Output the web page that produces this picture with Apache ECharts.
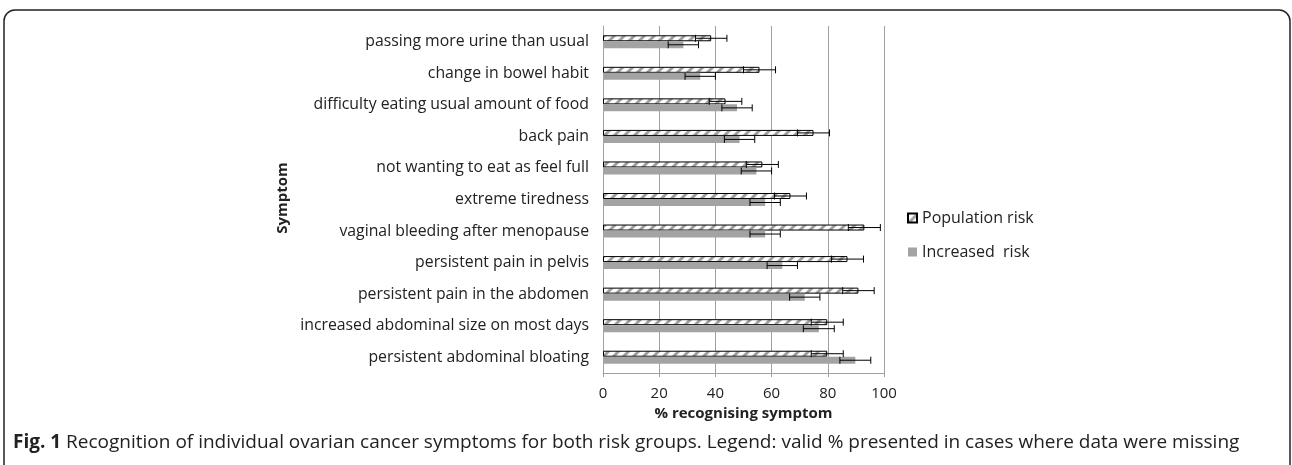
<!DOCTYPE html>
<html>
<head>
<meta charset="utf-8">
<title>ECharts</title>
<script src="https://cdn.jsdelivr.net/npm/echarts@6/dist/echarts.min.js"></script>
<style>
  html, body { margin: 0; padding: 0; background: #fff; }
</style>
</head>
<body>
	<div id="main" style="width: 1292px; height: 465px;"></div>
	<script type="text/javascript">
		// symptoms, top to bottom
		var symptoms = [
			'passing more urine than usual',
			'change in bowel habit',
			'difficulty eating usual amount of food',
			'back pain',
			'not wanting to eat as feel full',
			'extreme tiredness',
			'vaginal bleeding after menopause',
			'persistent pain in pelvis',
			'persistent pain in the abdomen',
			'increased abdominal size on most days',
			'persistent abdominal bloating'
		];
		var populationRisk = [38.5, 55.7, 43.6, 74.9, 56.7, 66.7, 93.0, 87.0, 90.9, 79.8, 79.8];
		var increasedRisk  = [28.6, 34.6, 47.7, 48.6, 54.6, 57.7, 57.7, 63.8, 71.8, 76.8, 89.8];
		// half widths of the error bars
		var populationErr = [5.6, 5.7, 5.8, 5.7, 5.7, 5.7, 5.7, 5.7, 5.6, 5.7, 5.7];
		var increasedErr  = [5.4, 5.4, 5.4, 5.4, 5.4, 5.4, 5.4, 5.4, 5.4, 5.5, 5.5];
		var xTicks = [0, 20, 40, 60, 80, 100];

		var font = 'Open Sans';
		var popW = 6, incW = 7;

		// hatch pattern for the population risk bars
		var cv = document.createElement('canvas');
		cv.width = 10; cv.height = 10;
		var ctx = cv.getContext('2d');
		ctx.fillStyle = '#fff';
		ctx.fillRect(0, 0, 10, 10);
		ctx.strokeStyle = '#a0a0a0';
		ctx.lineWidth = 3;
		ctx.beginPath();
		ctx.moveTo(-5, 15); ctx.lineTo(15, -5);
		ctx.moveTo(-15, 15); ctx.lineTo(5, -5);
		ctx.moveTo(5, 15); ctx.lineTo(25, -5);
		ctx.stroke();

		function errData(vals, errs) {
			var d = [];
			for (var i = 0; i < vals.length; i++) {
				d.push([vals[i] - errs[i], vals[i] + errs[i], i]);
			}
			return d;
		}

		function errRender(offset, cap) {
			return function (params, api) {
				var i = api.value(2);
				var p1 = api.coord([api.value(0), i]);
				var p2 = api.coord([api.value(1), i]);
				var y = p1[1] + offset;
				var st = { stroke: '#000', lineWidth: 1 };
				return {
					type: 'group',
					children: [
						{ type: 'line', shape: { x1: p1[0], y1: y, x2: p2[0], y2: y }, style: st },
						{ type: 'line', shape: { x1: p1[0], y1: y - cap, x2: p1[0], y2: y + cap }, style: st },
						{ type: 'line', shape: { x1: p2[0], y1: y - cap, x2: p2[0], y2: y + cap }, style: st }
					]
				};
			};
		}

		var myChart = echarts.init(document.getElementById('main'));

		var option = {
			backgroundColor: '#fff',
			animation: false,
			textStyle: { fontFamily: font },
			grid: { left: 603, right: 408, top: 26, bottom: 92 },
			legend: {
				orient: 'vertical',
				left: 907,
				top: 209,
				padding: 0,
				itemWidth: 9,
				itemHeight: 9,
				itemGap: 16,
				textStyle: { fontFamily: font, fontSize: 16, lineHeight: 18, color: '#222' },
				data: [
					{ name: 'Population risk', icon: 'rect' },
					{ name: 'Increased  risk', icon: 'rect' }
				]
			},
			xAxis: {
				type: 'value',
				min: 0, max: 100, interval: 20,
				name: '% recognising symptom',
				nameLocation: 'middle',
				nameGap: 32,
				nameTextStyle: { fontFamily: font, fontSize: 15, fontWeight: 'bold', color: '#222' },
				axisLine: { show: true, lineStyle: { color: '#a0a0a0' } },
				axisTick: { show: true, length: 4, lineStyle: { color: '#a0a0a0' } },
				axisLabel: {
					fontSize: 15, color: '#222', margin: 13,
					formatter: function (v) { return xTicks.indexOf(v) >= 0 ? String(v) : ''; }
				},
				splitLine: { show: true, lineStyle: { color: '#a0a0a0' } }
			},
			yAxis: {
				type: 'category',
				inverse: true,
				data: symptoms,
				axisLine: { show: true, lineStyle: { color: '#a0a0a0' } },
				axisTick: { show: false },
				axisLabel: { fontSize: 15.8, color: '#222', margin: 14 }
			},
			series: [
				{
					name: 'Population risk',
					type: 'bar',
					barWidth: popW,
					barGap: 0,
					data: populationRisk,
					itemStyle: { color: { image: cv, repeat: 'repeat' }, borderColor: '#000', borderWidth: 1 }
				},
				{
					name: 'Increased  risk',
					type: 'bar',
					barWidth: incW,
					barGap: 0,
					data: increasedRisk,
					itemStyle: { color: '#a3a3a3' }
				},
				{
					type: 'custom',
					renderItem: errRender(-(popW + incW) / 2 + popW / 2, 3.5),
					data: errData(populationRisk, populationErr),
					encode: { x: [0, 1], y: 2 },
					z: 5
				},
				{
					type: 'custom',
					renderItem: errRender((popW + incW) / 2 - incW / 2, 3.5),
					data: errData(increasedRisk, increasedErr),
					encode: { x: [0, 1], y: 2 },
					z: 5
				}
			],
			graphic: [
				{
					type: 'rect',
					shape: { x: 4, y: 10, width: 1286, height: 520, r: 11 },
					style: { fill: 'none', stroke: '#222', lineWidth: 1.5 },
					silent: true
				},
				{
					type: 'text',
					x: 283, y: 198,
					rotation: Math.PI / 2,
					style: {
						text: 'Symptom', fontFamily: font, fontSize: 15, fontWeight: 'bold',
						fill: '#222', align: 'center', verticalAlign: 'middle'
					}
				},
				{
					type: 'text',
					left: 13, top: 433,
					style: {
						text: '{b|Fig. 1} Recognition of individual ovarian cancer symptoms for both risk groups. Legend: valid % presented in cases where data were missing',
						fontFamily: 'Open Sans', fontSize: 19, fill: '#222',
						rich: { b: { fontFamily: 'Open Sans', fontSize: 19, fontWeight: 'bold', fill: '#222' } }
					}
				}
			]
		};
		myChart.setOption(option);
	</script>
</body>
</html>
